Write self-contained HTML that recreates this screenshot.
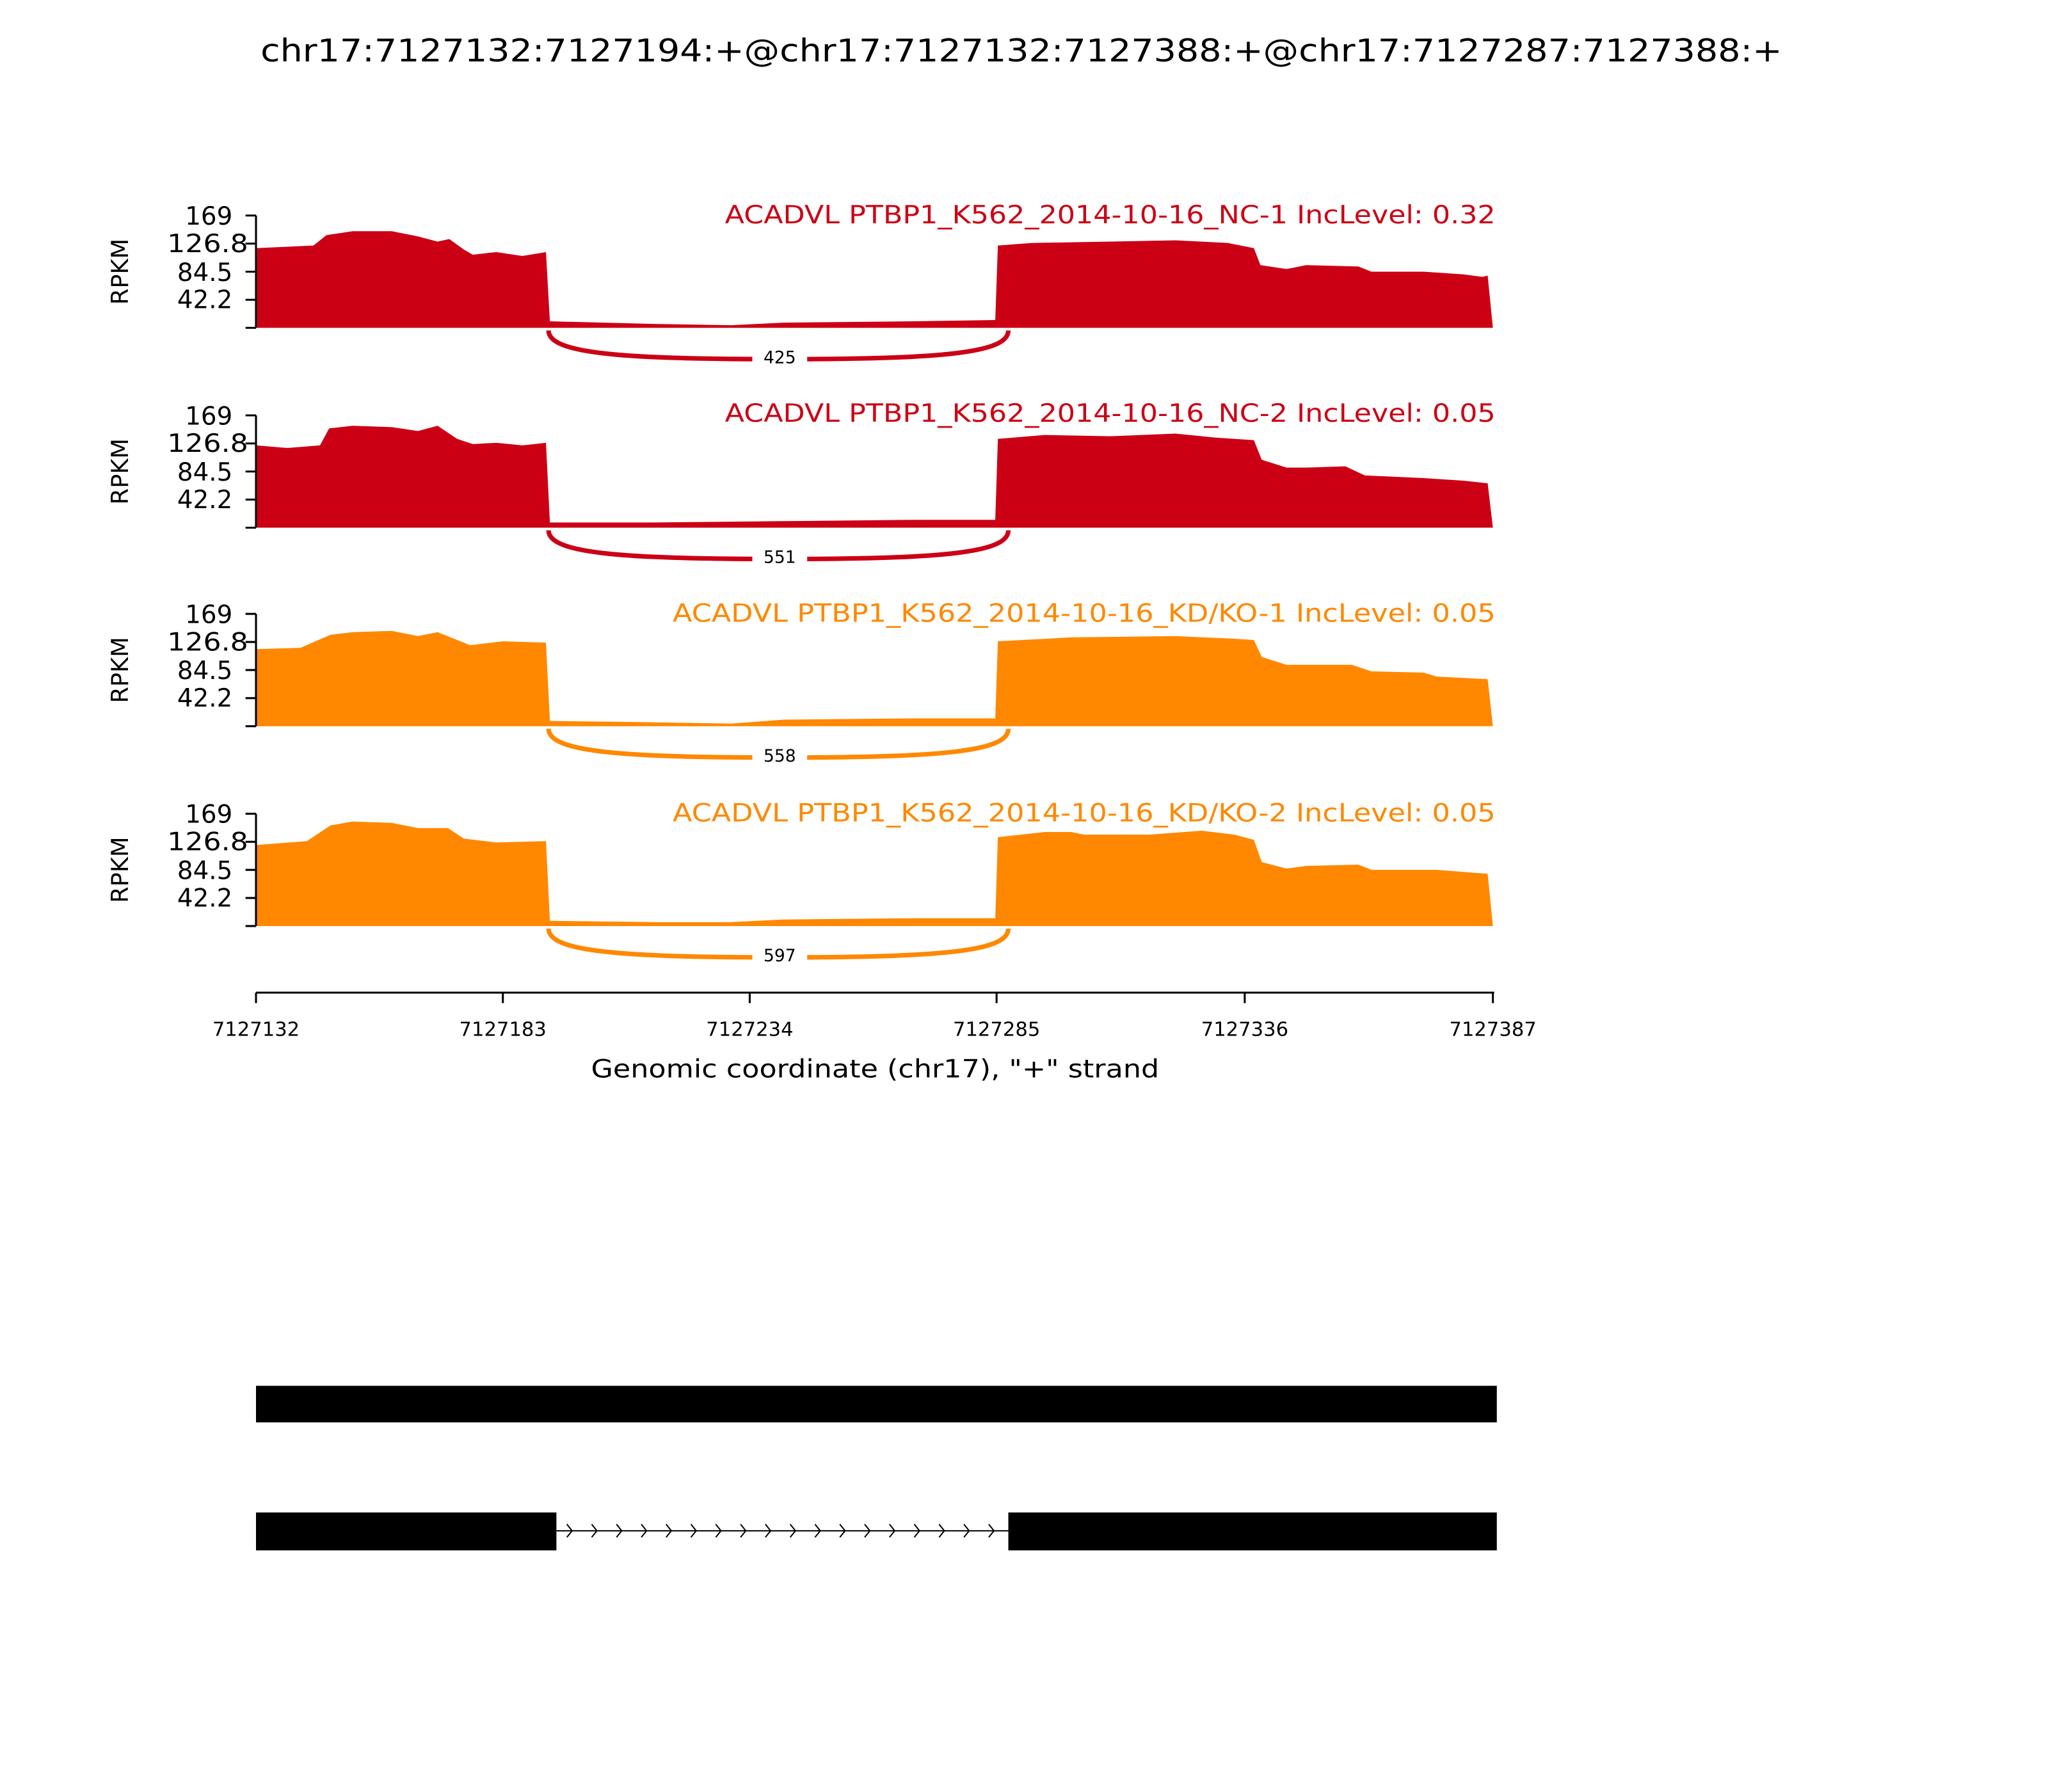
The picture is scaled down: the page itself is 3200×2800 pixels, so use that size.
<!DOCTYPE html>
<html><head><meta charset="utf-8"><style>html,body{margin:0;padding:0;background:#fff}svg{display:block}</style></head>
<body>
<svg width="3200" height="2800" viewBox="0 0 1568 1372" xmlns="http://www.w3.org/2000/svg" font-family="'DejaVu Sans','Liberation Sans',sans-serif">
<text x="782" y="47" font-size="24" text-anchor="middle" textLength="1165" lengthAdjust="spacingAndGlyphs">chr17:7127132:7127194:+@chr17:7127132:7127388:+@chr17:7127287:7127388:+</text>

<!-- Panel 1 -->
<g>
<polygon fill="#cc0015" points="196,251 196,190 240,188 250,180 270,177 300,177 320,181 335,185 344,183 355,191 362,195 380,193 400,196 418,193 421,246 500,248 560,249 600,247 700,246 762,245 764,188 790,186 850,185 900,184 940,186 960,190 965,203 985,206 1000,203 1040,204 1050,208 1090,208 1120,210 1135,212 1139,211 1143,251"/>
<path d="M420,253 C420,270 470,275 597,275 C724,275 772,270 772,253" fill="none" stroke="#cc0015" stroke-width="3.5"/>
<rect x="576" y="264" width="42" height="18" fill="#fff"/><text x="597" y="278" font-size="13" text-anchor="middle">425</text>
<text x="1145" y="171" font-size="19" fill="#cc0015" text-anchor="end" textLength="590" lengthAdjust="spacingAndGlyphs">ACADVL PTBP1_K562_2014-10-16_NC-1 IncLevel: 0.32</text>
</g>
<!-- Panel 2 -->
<g>
<polygon fill="#cc0015" points="196,404 196,341 220,343 245,341 252,328 270,326 300,327 320,330 335,326 350,336 362,340 380,339 400,341 418,339 421,400 500,400 600,399 700,398 762,398 764,336 800,333 850,334 900,332 930,335 960,337 966,352 985,358 1000,358 1030,357 1045,364 1090,366 1120,368 1139,370 1143,404"/>
<path d="M420,406 C420,423 470,428 597,428 C724,428 772,423 772,406" fill="none" stroke="#cc0015" stroke-width="3.5"/>
<rect x="576" y="417" width="42" height="18" fill="#fff"/><text x="597" y="431" font-size="13" text-anchor="middle">551</text>
<text x="1145" y="323" font-size="19" fill="#cc0015" text-anchor="end" textLength="590" lengthAdjust="spacingAndGlyphs">ACADVL PTBP1_K562_2014-10-16_NC-2 IncLevel: 0.05</text>
</g>
<!-- Panel 3 -->
<g>
<polygon fill="#ff8800" points="196,556 196,497 230,496 253,486 270,484 300,483 320,487 335,484 350,490 360,494 385,491 418,492 421,552 500,553 560,554 600,551 700,550 762,550 764,491 820,488 900,487 945,489 960,490 966,503 985,509 1035,509 1050,514 1090,515 1100,518 1139,520 1143,556"/>
<path d="M420,558 C420,575 470,580 597,580 C724,580 772,575 772,558" fill="none" stroke="#ff8800" stroke-width="3.5"/>
<rect x="576" y="569" width="42" height="18" fill="#fff"/><text x="597" y="583" font-size="13" text-anchor="middle">558</text>
<text x="1145" y="476" font-size="19" fill="#ff8800" text-anchor="end" textLength="630" lengthAdjust="spacingAndGlyphs">ACADVL PTBP1_K562_2014-10-16_KD/KO-1 IncLevel: 0.05</text>
</g>
<!-- Panel 4 -->
<g>
<polygon fill="#ff8800" points="196,709 196,647 235,644 253,632 270,629 300,630 320,634 343,634 355,642 380,645 418,644 421,705 500,706 560,706 600,704 700,703 762,703 764,641 800,637 820,637 830,639 880,639 920,636 945,639 960,643 966,660 985,665 1000,663 1040,662 1050,666 1100,666 1139,669 1143,709"/>
<path d="M420,711 C420,728 470,733 597,733 C724,733 772,728 772,711" fill="none" stroke="#ff8800" stroke-width="3.5"/>
<rect x="576" y="722" width="42" height="18" fill="#fff"/><text x="597" y="736" font-size="13" text-anchor="middle">597</text>
<text x="1145" y="629" font-size="19" fill="#ff8800" text-anchor="end" textLength="630" lengthAdjust="spacingAndGlyphs">ACADVL PTBP1_K562_2014-10-16_KD/KO-2 IncLevel: 0.05</text>
</g>

<!-- y axes -->
<g stroke="#000" stroke-width="1.5" fill="none">
<path d="M196,165 V251 M188,165 H196 M188,186.5 H196 M188,208 H196 M188,229.5 H196 M188,251 H196"/>
<path d="M196,318 V404 M188,318 H196 M188,339.5 H196 M188,361 H196 M188,382.5 H196 M188,404 H196"/>
<path d="M196,470 V556 M188,470 H196 M188,491.5 H196 M188,513 H196 M188,534.5 H196 M188,556 H196"/>
<path d="M196,623 V709 M188,623 H196 M188,644.5 H196 M188,666 H196 M188,687.5 H196 M188,709 H196"/>
</g>
<g font-size="19" text-anchor="end">
<text x="178" y="172">169</text><text x="190" y="193" textLength="62" lengthAdjust="spacingAndGlyphs">126.8</text><text x="178" y="215">84.5</text><text x="178" y="236">42.2</text>
<text x="178" y="325">169</text><text x="190" y="346" textLength="62" lengthAdjust="spacingAndGlyphs">126.8</text><text x="178" y="368">84.5</text><text x="178" y="389">42.2</text>
<text x="178" y="477">169</text><text x="190" y="498" textLength="62" lengthAdjust="spacingAndGlyphs">126.8</text><text x="178" y="520">84.5</text><text x="178" y="541">42.2</text>
<text x="178" y="630">169</text><text x="190" y="651" textLength="62" lengthAdjust="spacingAndGlyphs">126.8</text><text x="178" y="673">84.5</text><text x="178" y="694">42.2</text>
</g>
<g font-size="18" text-anchor="middle">
<text transform="translate(98,208) rotate(-90)">RPKM</text>
<text transform="translate(98,361) rotate(-90)">RPKM</text>
<text transform="translate(98,513) rotate(-90)">RPKM</text>
<text transform="translate(98,666) rotate(-90)">RPKM</text>
</g>

<!-- x axis -->
<g stroke="#000" stroke-width="1.5" fill="none">
<path d="M196,760 H1144 M196,760 V768 M385,760 V768 M574,760 V768 M763,760 V768 M953,760 V768 M1143,760 V768"/>
</g>
<g font-size="15" text-anchor="middle">
<text x="196" y="793">7127132</text><text x="385" y="793">7127183</text><text x="574" y="793">7127234</text>
<text x="763" y="793">7127285</text><text x="953" y="793">7127336</text><text x="1143" y="793">7127387</text>
</g>
<text x="670" y="825" font-size="19" text-anchor="middle" textLength="435" lengthAdjust="spacingAndGlyphs">Genomic coordinate (chr17), "+" strand</text>

<!-- gene models -->
<rect x="196" y="1061" width="950" height="28" fill="#000"/>
<rect x="196" y="1158" width="230" height="29" fill="#000"/>
<rect x="772" y="1158" width="374" height="29" fill="#000"/>
<path d="M426,1172 H772" stroke="#000" stroke-width="1"/>
<path fill="none" stroke="#000" stroke-width="1" d="M434,1167 l4,5 l-4,5 M453,1167 l4,5 l-4,5 M472,1167 l4,5 l-4,5 M491,1167 l4,5 l-4,5 M510,1167 l4,5 l-4,5 M529,1167 l4,5 l-4,5 M548,1167 l4,5 l-4,5 M567,1167 l4,5 l-4,5 M586,1167 l4,5 l-4,5 M605,1167 l4,5 l-4,5 M624,1167 l4,5 l-4,5 M643,1167 l4,5 l-4,5 M662,1167 l4,5 l-4,5 M681,1167 l4,5 l-4,5 M700,1167 l4,5 l-4,5 M719,1167 l4,5 l-4,5 M738,1167 l4,5 l-4,5 M757,1167 l4,5 l-4,5"/>
</svg>
</body></html>
